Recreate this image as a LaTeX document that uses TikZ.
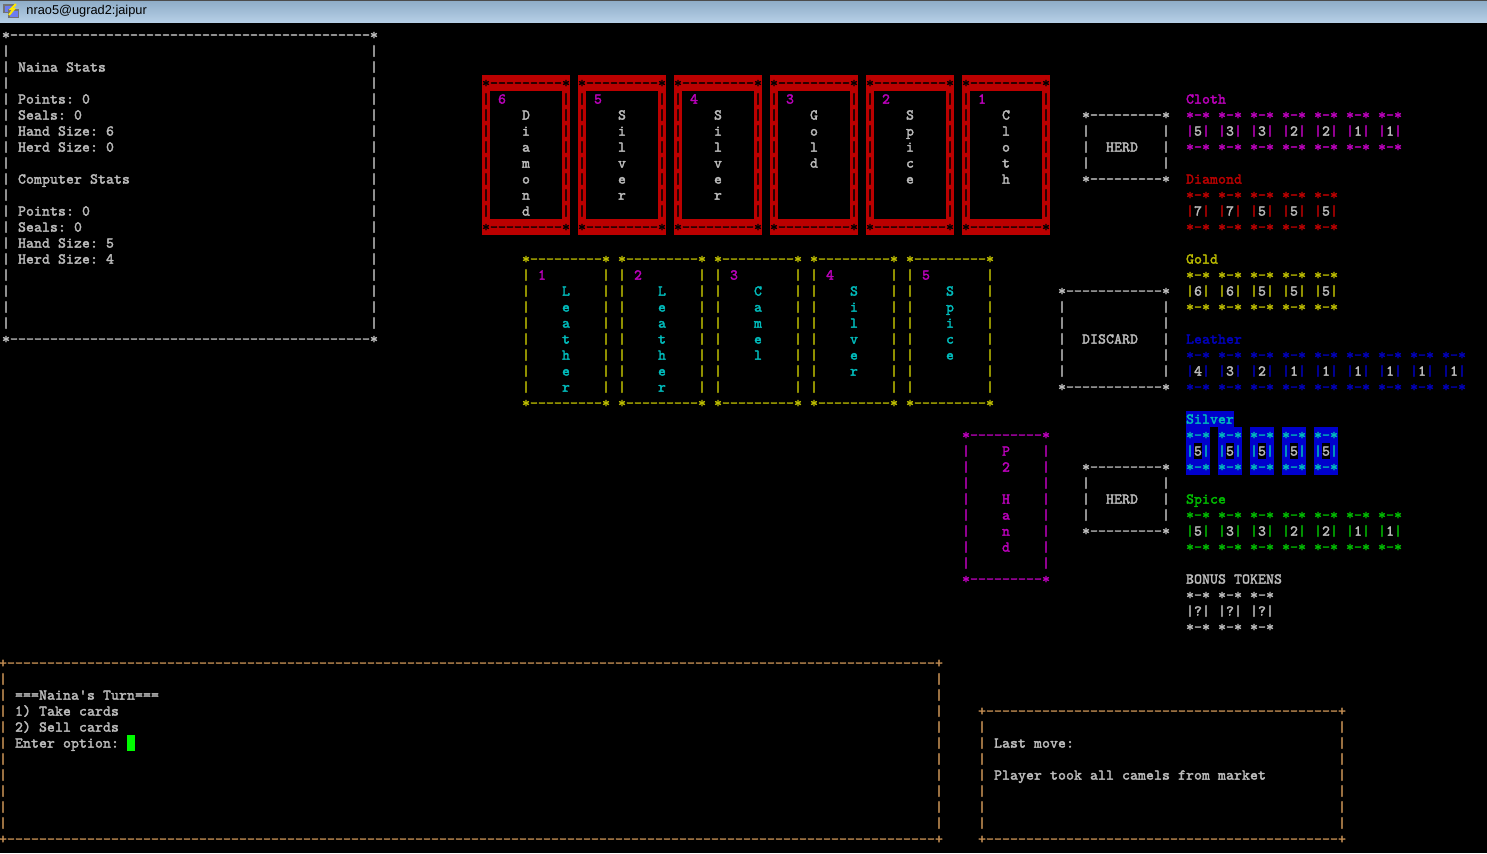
\documentclass[tikz,border=0pt]{standalone}
\usepackage{fontspec}
\newfontfamily\uifont{Liberation Sans}
\newfontfamily\termfont{lmmono10-regular.otf}[FakeBold=2.2]
\definecolor{cgray}{RGB}{187,187,187}
\definecolor{cred}{RGB}{187,0,0}
\definecolor{cmag}{RGB}{187,0,187}
\definecolor{cyel}{RGB}{187,187,0}
\definecolor{ccyan}{RGB}{0,187,187}
\definecolor{cblue}{RGB}{0,0,187}
\definecolor{cblueb}{RGB}{0,0,205}
\definecolor{cgreen}{RGB}{0,187,0}
\definecolor{ctan}{RGB}{200,145,85}
\definecolor{ccursor}{RGB}{0,250,0}
\definecolor{tbtop}{RGB}{143,173,200}
\definecolor{tbbot}{RGB}{182,207,230}
\ExplSyntaxOn
\NewDocumentCommand\mono{m}{\str_map_inline:nn {#1} {\makebox[4pt][c]{##1}}}
\NewDocumentCommand\dashes{m}{\prg_replicate:nn {#1} {\makebox[4pt][c]{-}}}
\int_new:N \l_vw_int
\NewDocumentCommand\VW{mmmm}{
  \int_zero:N \l_vw_int
  \str_map_inline:nn {#4} {
    \C{#1}{#2+\int_use:N \l_vw_int}{#3}{##1}
    \int_incr:N \l_vw_int
  }
}
\ExplSyntaxOff
\newcounter{nn}
\tikzset{tt/.style={font=\termfont\fontsize{7.5}{8}\selectfont, inner sep=0pt, outer sep=0pt, anchor=base west}}
% text string at column/row (left aligned, monospaced grid)
\newcommand\T[4]{\stepcounter{nn}\node[tt,text=#3,name=t\arabic{nn}] at ({2+8*(#1)},{39.6+16*(#2)}) {\mono{#4}};}
% single character centred in its cell
\newcommand\C[4]{\stepcounter{nn}\node[tt,anchor=base,text=#3,name=c\arabic{nn}] at ({6+8*(#1)},{39.6+16*(#2)}) {#4};}
% horizontal border line
\newcommand\HL[5]{\stepcounter{nn}\node[tt,text=#4,name=h\arabic{nn}] at ({2+8*(#1)},{39.6+16*(#3)}) {\mono{#5}\dashes{#2-#1-1}\mono{#5}};}
% vertical border line
\newcommand\VL[4]{\foreach \r in {#2,...,#3} {\C{#1}{\r}{#4}{|}}}
% ascii box
\newcommand\BOX[6]{%
  \HL{#1}{#2}{#3}{#5}{#6}\HL{#1}{#2}{#4}{#5}{#6}%
  \pgfmathtruncatemacro\ra{#3+1}\pgfmathtruncatemacro\rb{#4-1}%
  \VL{#1}{\ra}{\rb}{#5}\VL{#2}{\ra}{\rb}{#5}}
% red card on the top row
\newcommand\RCARD[3]{%
  \fill[cred] ({2+8*(#1)},{27+16*3}) rectangle ({2+8*(#1+11)},{27+16*13});
  \fill[black] ({2+8*(#1+1)},{27+16*4}) rectangle ({2+8*(#1+10)},{27+16*12});
  \BOX{#1}{#1+10}{3}{12}{black}{*}
  \C{#1+2}{4}{cmag}{#2}
  \VW{#1+5}{5}{cgray}{#3}}
% market card
\newcommand\MCARD[3]{%
  \BOX{#1}{#1+10}{14}{23}{cyel}{*}
  \C{#1+2}{15}{cmag}{#2}
  \VW{#1+5}{16}{ccyan}{#3}}
% token row
\newcommand\TOK[5][cgray]{%
  \foreach \v [count=\k from 0] in {#5} {
    \T{#2+4*\k}{#3}{#4}{*-*}
    \C{#2+4*\k}{#3+1}{#4}{|}
    \C{#2+4*\k+1}{#3+1}{#1}{\v}
    \C{#2+4*\k+2}{#3+1}{#4}{|}
    \T{#2+4*\k}{#3+2}{#4}{*-*}
  }}
\begin{document}
\begin{tikzpicture}[x=0.5pt,y=-0.5pt]
\useasboundingbox (0,0) rectangle (1487,853);
\fill[black] (0,0) rectangle (1487,853);
% title bar
\shade[top color=tbtop, bottom color=tbbot] (0,1) rectangle (1487,22);
\fill[black!70] (0,0) rectangle (1487,1);
\fill[black!55] (3,4) rectangle (14,13);
\fill[tbbot!60!blue] (4.5,5.5) rectangle (12.5,11.5);
\fill[black!55] (8,9) rectangle (19,18);
\fill[tbbot!60!blue] (9.5,10.5) rectangle (17.5,16.5);
\draw[yellow!90!orange, line width=1] (16,4) -- (11,9) -- (14,9) -- (9,15);
\node[anchor=west, inner sep=0pt, font=\uifont\fontsize{6.4}{7}\selectfont] (title) at (26,11.5) {nrao5@ugrad2:jaipur};

% stats box
\BOX{0}{46}{0}{19}{cgray}{*}
\T{2}{2}{cgray}{Naina Stats}
\T{2}{4}{cgray}{Points: 0}
\T{2}{5}{cgray}{Seals: 0}
\T{2}{6}{cgray}{Hand Size: 6}
\T{2}{7}{cgray}{Herd Size: 0}
\T{2}{9}{cgray}{Computer Stats}
\T{2}{11}{cgray}{Points: 0}
\T{2}{12}{cgray}{Seals: 0}
\T{2}{13}{cgray}{Hand Size: 5}
\T{2}{14}{cgray}{Herd Size: 4}

% P2 hand (red cards)
\RCARD{60}{6}{Diamond}
\RCARD{72}{5}{Silver}
\RCARD{84}{4}{Silver}
\RCARD{96}{3}{Gold}
\RCARD{108}{2}{Spice}
\RCARD{120}{1}{Cloth}

% market
\MCARD{65}{1}{Leather}
\MCARD{77}{2}{Leather}
\MCARD{89}{3}{Camel}
\MCARD{101}{4}{Silver}
\MCARD{113}{5}{Spice}

% herd boxes and discard
\BOX{135}{145}{5}{9}{cgray}{*}
\T{138}{7}{cgray}{HERD}
\BOX{132}{145}{16}{22}{cgray}{*}
\T{135}{19}{cgray}{DISCARD}
\BOX{135}{145}{27}{31}{cgray}{*}
\T{138}{29}{cgray}{HERD}

% P2 hand box
\BOX{120}{130}{25}{34}{cmag}{*}
\C{125}{26}{cmag}{P}
\C{125}{27}{cmag}{2}
\VW{125}{29}{cmag}{Hand}

% tokens
\T{148}{4}{cmag}{Cloth}
\TOK{148}{5}{cmag}{5,3,3,2,2,1,1}
\T{148}{9}{cred}{Diamond}
\TOK{148}{10}{cred}{7,7,5,5,5}
\T{148}{14}{cyel}{Gold}
\TOK{148}{15}{cyel}{6,6,5,5,5}
\T{148}{19}{cblue}{Leather}
\TOK{148}{20}{cblue}{4,3,2,1,1,1,1,1,1}
% silver (highlighted)
\fill[cblueb] ({2+8*148},{27+16*24}) rectangle ({2+8*154},{27+16*25});
\foreach \k in {0,...,4} {
  \fill[cblueb] ({2+8*(148+4*\k)},{27+16*25}) rectangle ({2+8*(151+4*\k)},{27+16*28});
  \fill[black] ({2+8*(149+4*\k)},{27+16*26}) rectangle ({2+8*(150+4*\k)},{27+16*27});
}
\T{148}{24}{ccyan}{Silver}
\TOK{148}{25}{ccyan}{5,5,5,5,5}
\T{148}{29}{cgreen}{Spice}
\TOK{148}{30}{cgreen}{5,3,3,2,2,1,1}
\T{148}{34}{cgray}{BONUS TOKENS}
\TOK{148}{35}{cgray}{?,?,?}

% bottom left box
\begin{scope}[shift={(-3,4)}]
\BOX{0}{117}{39}{50}{ctan}{+}
\T{2}{41}{cgray}{===Naina's Turn===}
\T{2}{42}{cgray}{1) Take cards}
\T{2}{43}{cgray}{2) Sell cards}
\T{2}{44}{cgray}{Enter option:}
\fill[ccursor] ({2+8*16},{27+16*44}) rectangle ({2+8*17},{27+16*45});
\end{scope}

% bottom right box
\begin{scope}[shift={(0,4)}]
\BOX{122}{167}{42}{50}{ctan}{+}
\T{124}{44}{cgray}{Last move:}
\T{124}{46}{cgray}{Player took all camels from market}
\end{scope}
\end{tikzpicture}
\end{document}
